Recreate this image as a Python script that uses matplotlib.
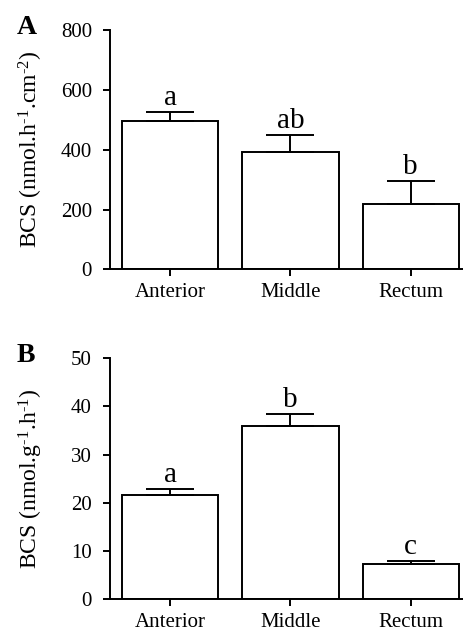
import matplotlib
matplotlib.use("Agg")
from matplotlib import pyplot as plt
import numpy as np

# Data
sites = ["Anterior", "Middle", "Rectum"]

area_mean = [496, 391, 218]
area_err = [31, 59, 77]
area_letters = ["a", "ab", "b"]

mass_mean = [21.5, 36.0, 7.2]
mass_err = [1.4, 2.5, 0.75]
mass_letters = ["a", "b", "c"]

plt.rcParams['font.family'] = ['Liberation Serif', 'DejaVu Serif']
plt.rcParams['mathtext.fontset'] = 'custom'
plt.rcParams['mathtext.rm'] = 'Liberation Serif'
plt.rcParams['mathtext.it'] = 'Liberation Serif:italic'
plt.rcParams['mathtext.bf'] = 'Liberation Serif:bold'

LW = 1.4


def draw_panel(ax, means, errs, letters, ymax, step, ylabel, panel):
    x = np.arange(len(sites))
    ax.bar(x, means, width=0.8, color="white", edgecolor="black", linewidth=LW, zorder=2)
    ax.errorbar(x, means, yerr=[np.zeros(len(errs)), errs], fmt="none", ecolor="black",
                elinewidth=LW, capsize=17, capthick=LW, zorder=3)
    for xi, m, e, lab in zip(x, means, errs, letters):
        ax.annotate(lab, (xi, m + e), xytext=(0, 5), textcoords="offset points",
                    ha="center", va="baseline", fontsize=21)

    ax.set_xlim(-0.501, 2.435)
    ax.set_ylim(0, ymax)
    ax.set_yticks(np.arange(0, ymax + step, step))
    ax.set_xticks(x)
    ax.set_xticklabels(sites)

    for s in ["top", "right"]:
        ax.spines[s].set_visible(False)
    for s in ["left", "bottom"]:
        ax.spines[s].set_linewidth(LW)

    ax.tick_params(axis="y", length=5, width=LW, pad=8, labelsize=15)
    ax.tick_params(axis="x", length=5, width=LW, pad=5, labelsize=15)

    ax.set_ylabel(ylabel, fontsize=17)
    ax.yaxis.set_label_coords(-0.184, 0.5)

    ax.text(-0.265, 1.01, panel, transform=ax.transAxes, fontsize=20, fontweight="bold",
            ha="left", va="center")


fig = plt.figure(figsize=(4.63, 6.36), dpi=100)
axA = fig.add_axes([0.2376, 0.5763, 0.7624, 0.3766])
axB = fig.add_axes([0.2376, 0.0582, 0.7624, 0.3785])

draw_panel(axA, area_mean, area_err, area_letters, 800, 200,
           r"BCS (nmol.h$^{\text{-}1}$.cm$^{\text{-}2}$)", "A")
draw_panel(axB, mass_mean, mass_err, mass_letters, 50, 10,
           r"BCS (nmol.g$^{\text{-}1}$.h$^{\text{-}1}$)", "B")

plt.savefig("out.png", dpi=100)
plt.close()
